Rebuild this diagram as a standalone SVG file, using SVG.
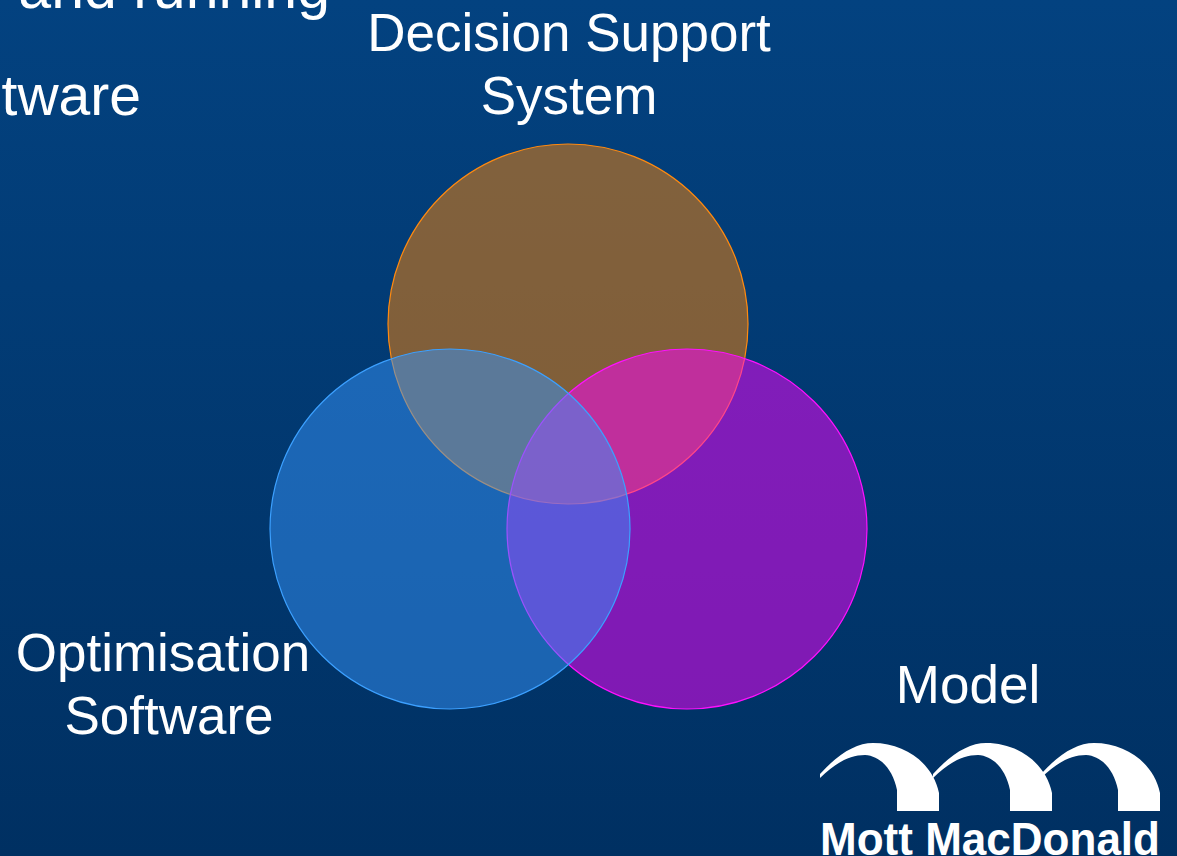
<svg xmlns="http://www.w3.org/2000/svg" width="1177" height="856" viewBox="0 0 1177 856">
<defs>
<linearGradient id="bg" x1="0" y1="0" x2="0" y2="1">
<stop offset="0" stop-color="#034280"/>
<stop offset="1" stop-color="#003062"/>
</linearGradient>
<path id="arch" d="M820,774 C838,754 856,743 873,743 C906,743 933,764 939,793 L939,811 L897,811 L897,790 C893,770 881,756 865,755 C850,755 835,763 820,778 Z"/>
</defs>
<style>
.lbl{font-family:"Liberation Sans",Arial,sans-serif;font-size:53px;fill:#ffffff;text-anchor:middle}
.big{font-family:"Liberation Sans",Arial,sans-serif;font-size:59px;fill:#ffffff;text-anchor:end}
.c{fill-opacity:0.5;stroke-width:1.2}
</style>
<rect width="1177" height="856" fill="url(#bg)"/>
<text class="big" x="330" y="8">and running</text>
<text class="big" x="141" y="115" style="font-size:57px">tware</text>
<g id="dss">
<circle class="c" cx="568" cy="324" r="180" fill="#ff8400" stroke="#ff8a10"/>
<text class="lbl" x="569" y="51">Decision Support</text>
<text class="lbl" x="569" y="114">System</text>
</g>
<g id="model">
<circle class="c" cx="687" cy="529" r="180" fill="#ff00ff" stroke="#ff10ff"/>
<text class="lbl" x="968" y="703">Model</text>
</g>
<g id="optimisation">
<circle class="c" cx="450" cy="529" r="180" fill="#3694fa" stroke="#3ca0ff"/>
<text class="lbl" x="163" y="671">Optimisation</text>
<text class="lbl" x="169" y="734">Software</text>
</g>
<g id="connectors"></g>
<g id="logo" fill="#ffffff">
<use href="#arch"/>
<use href="#arch" x="113"/>
<use href="#arch" x="221"/>
<text x="820" y="855" font-family="Liberation Sans,Arial,sans-serif" font-weight="bold" font-size="46" textLength="340" lengthAdjust="spacingAndGlyphs">Mott MacDonald</text>
</g>
</svg>
